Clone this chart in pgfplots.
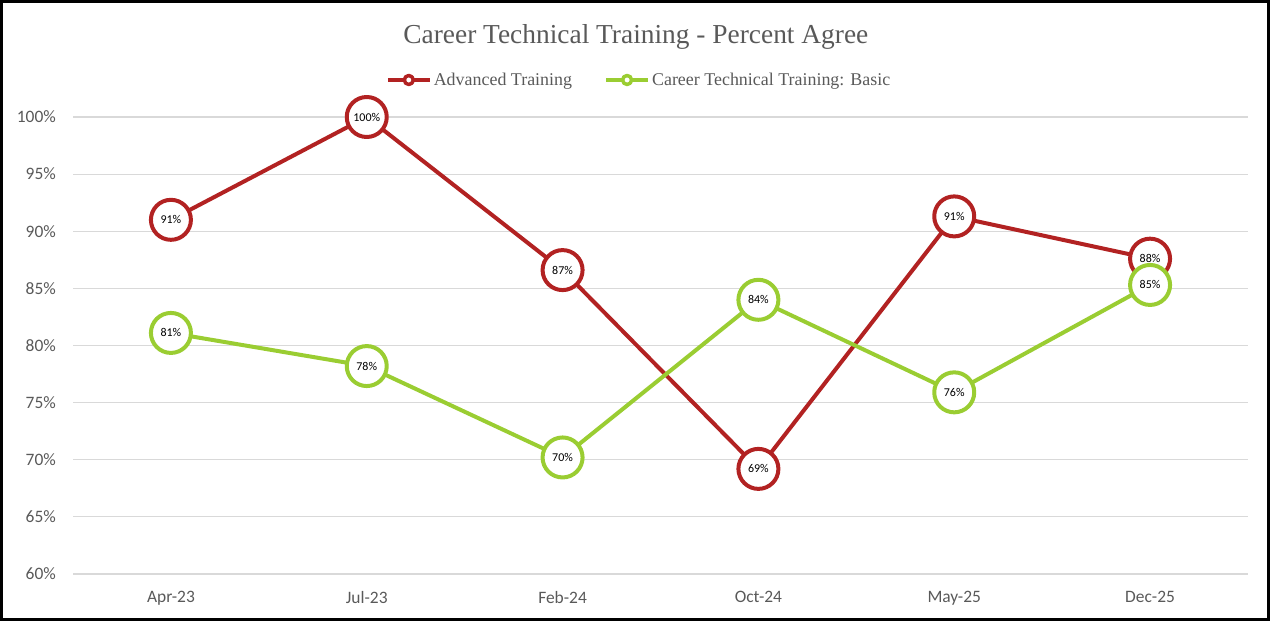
\documentclass[border=0pt]{standalone}
\usepackage{pgfplots}
\pgfplotsset{compat=1.18}
\usepackage{pgfplotstable}
\usepackage{fontspec}
\setmainfont{Liberation Serif}
\newfontfamily\carlito{Carlito}
\definecolor{advred}{RGB}{178,34,34}
\definecolor{basicgreen}{RGB}{154,205,50}
\definecolor{txtgray}{RGB}{89,89,89}
\definecolor{gridgray}{RGB}{217,217,217}

\pgfplotstableread{
x y label
0 91.0 91
1 100.0 100
2 86.6 87
3 69.2 69
4 91.3 91
5 87.6 88
}\advanced

\pgfplotstableread{
x y label
0 81.1 81
1 78.2 78
2 70.2 70
3 84.0 84
4 75.9 76
5 85.3 85
}\basic

\begin{document}
\begin{tikzpicture}
\useasboundingbox (0bp,0bp) rectangle (1270bp,621bp);
\begin{axis}[
  at={(73bp,47bp)}, anchor=south west,
  scale only axis, width=1175bp, height=457bp,
  xmin=-0.5, xmax=5.5, ymin=60, ymax=100,
  xtick={0,1,2,3,4,5},
  xticklabels={Apr-23,Jul-23,Feb-24,Oct-24,May-25,Dec-25},
  ytick={60,65,70,75,80,85,90,95,100},
  yticklabel={\pgfmathprintnumber{\tick}\%},
  /pgf/number format/assume math mode=true,
  axis line style={draw=none},
  major tick style={draw=none},
  ymajorgrids, grid style={gridgray, line width=1.2bp},
  tick label style={font=\carlito\fontsize{17.5}{19}\selectfont, color=txtgray, inner sep=0pt},
  yticklabel style={xshift=-17bp},
  xticklabel style={yshift=-17bp},
  clip=false,
  title={Career Technical Training - Percent Agree},
  title style={at={(0.479,1.162)}, anchor=center, font=\fontsize{27.5}{30}\selectfont, color=txtgray},
  legend columns=2,
  legend style={at={(0.4817,1.081)}, anchor=center, draw=none, fill=none,
    font=\fontsize{18}{20}\selectfont, text=txtgray,
    /tikz/every even column/.append style={column sep=30bp}},
  legend cell align=left,
  legend image code/.code={
    \draw[#1, mark=none, line width=4bp] (0bp,0bp) -- (42bp,0bp);
    \draw[#1, mark=none, line width=3.5bp, fill=white] (21bp,0bp) circle (4.5bp);
  },
  nodes near coords={\pgfplotspointmeta\%},
  point meta=explicit symbolic,
  every node near coord/.append style={anchor=center, font=\carlito\fontsize{12}{13}\selectfont, color=black, inner sep=0pt},
]
\addplot[advred, line width=4bp, line join=round, mark=*, mark size=20bp,
  mark options={fill=white, draw=advred, line width=4bp}]
  table[x=x, y=y, meta=label] {\advanced};
\addlegendentry{Advanced Training}
\addplot[basicgreen, line width=4bp, line join=round, mark=*, mark size=20bp,
  mark options={fill=white, draw=basicgreen, line width=4bp}]
  table[x=x, y=y, meta=label] {\basic};
\addlegendentry{Career Technical Training: Basic}
\end{axis}
\draw[line width=3bp] (1.5bp,1.5bp) rectangle (1268.5bp,619.5bp);
\end{tikzpicture}
\end{document}
